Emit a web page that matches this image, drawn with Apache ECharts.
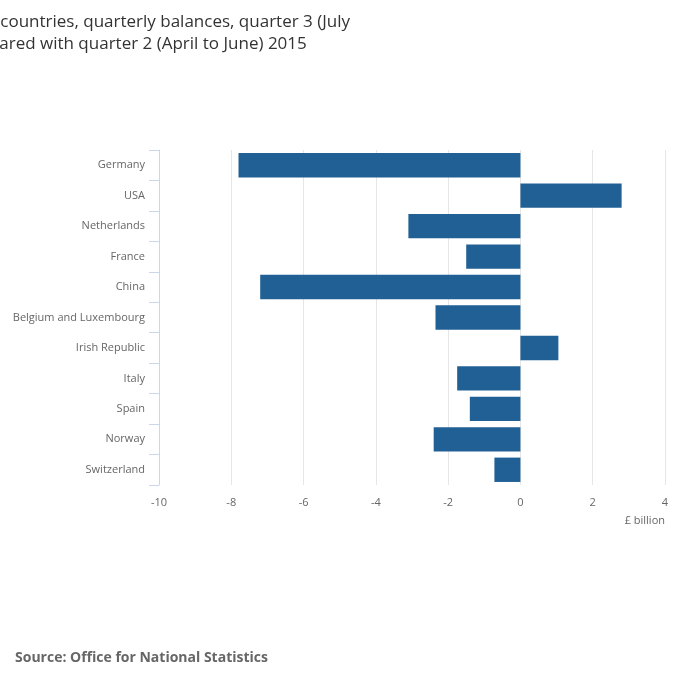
<!DOCTYPE html>
<html>
<head>
<meta charset="utf-8">
<script src="https://cdn.jsdelivr.net/npm/echarts@6/dist/echarts.min.js"></script>
<style>
  html, body { margin: 0; padding: 0; background: #fff; }
  #chart { width: 700px; height: 682px; }
</style>
</head>
<body>
<div id="chart"></div>
<script>
// 国家与季度余额（£ billion）
const countries = ['Germany', 'USA', 'Netherlands', 'France', 'China', 'Belgium and Luxembourg',
  'Irish Republic', 'Italy', 'Spain', 'Norway', 'Switzerland']
const balances = [-7.8, 2.8, -3.1, -1.5, -7.2, -2.35, 1.05, -1.75, -1.4, -2.4, -0.72]

const chart = echarts.init(document.getElementById('chart'))
chart.setOption({
  animation: false,
  textStyle: { fontFamily: 'Open Sans' },
  title: [
    {
      text: 'Figure 6: Significant UK partner countries, quarterly balances, quarter 3 (July\nto September) 2015 compared with quarter 2 (April to June) 2015',
      left: 'center',
      top: 6,
      textAlign: 'center',
      textStyle: { fontSize: 17, fontWeight: 'normal', color: '#333', lineHeight: 22, fontFamily: 'Open Sans' }
    },
    {
      text: 'Source: Office for National Statistics',
      left: 10,
      top: 646,
      textStyle: { fontSize: 14, fontWeight: 'bold', color: '#666', fontFamily: 'Open Sans' }
    }
  ],
  grid: { left: 159, right: 35, top: 150, bottom: 197 },
  xAxis: {
    type: 'value',
    min: -10,
    max: 4,
    interval: 2,
    name: '£ billion',
    nameLocation: 'end',
    nameGap: 0,
    nameTextStyle: { color: '#666', fontSize: 11, align: 'right', verticalAlign: 'top', padding: [30, 0, 0, 0] },
    axisLine: { show: false },
    axisTick: { show: false },
    axisLabel: { color: '#666', fontSize: 11, margin: 12 },
    splitLine: { lineStyle: { color: '#e6e6e6' } }
  },
  yAxis: {
    type: 'category',
    inverse: true,
    data: countries,
    axisLine: { show: true, onZero: false, lineStyle: { color: '#ccd6eb' } },
    axisTick: { show: true, length: 10, lineStyle: { color: '#ccd6eb' } },
    axisLabel: { color: '#666', fontSize: 11, margin: 14 }
  },
  series: [{
    type: 'bar',
    data: balances,
    barCategoryGap: '20%',
    itemStyle: { color: '#206095' }
  }]
})
</script>
</body>
</html>
